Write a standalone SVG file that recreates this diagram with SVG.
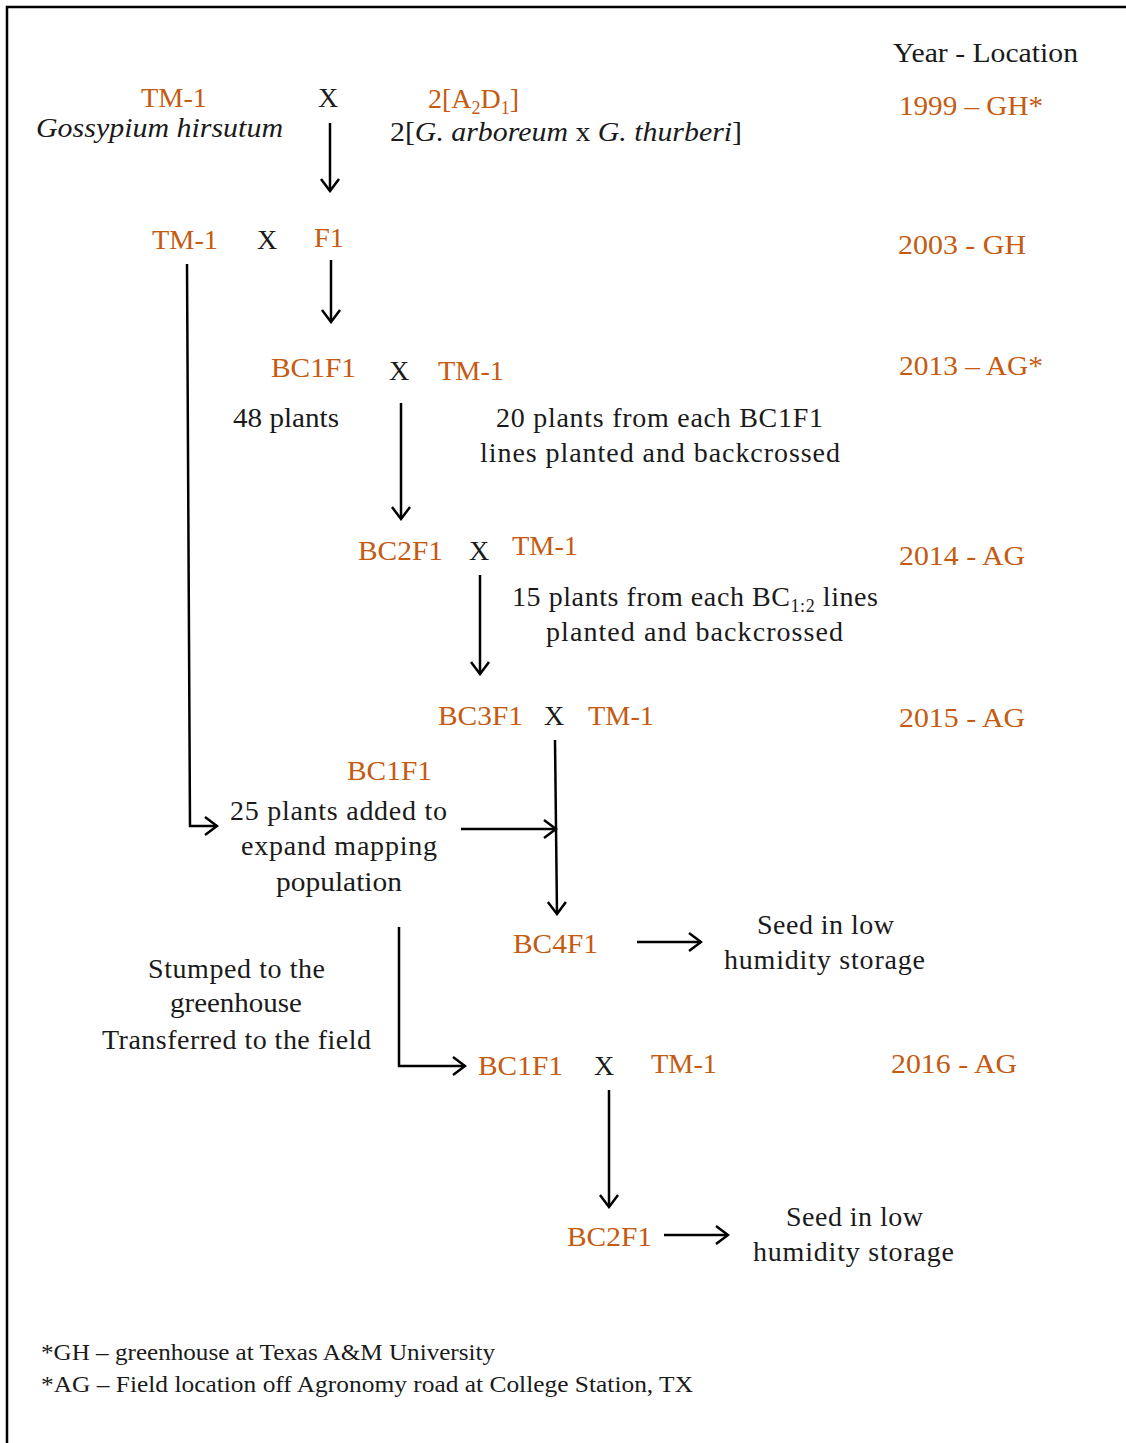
<svg xmlns="http://www.w3.org/2000/svg" width="1126" height="1443" viewBox="0 0 1126 1443">
<defs>
<style>
text{font-family:"Liberation Serif","Times New Roman",serif;font-size:28px;fill:#1a1a1a}
.o{fill:#C55A11}
.i{font-style:italic}
.f{font-size:23px}
.c{fill:none;stroke:#000;stroke-width:2.5}
.a{marker-end:url(#ah)}
</style>
<marker id="ah" viewBox="-14 -10 16 20" refX="0" refY="0" markerWidth="16" markerHeight="20" markerUnits="userSpaceOnUse" orient="auto">
<path d="M-12,-9 L0,0 L-12,9" fill="none" stroke="#000" stroke-width="2.5"/>
</marker>
</defs>
<rect width="1126" height="1443" fill="#fff"/>
<path d="M7,1443 L7,7 L1126,7" fill="none" stroke="#000" stroke-width="2.5"/>

<g id="connectors">
<line class="c a" x1="330" y1="123" x2="330" y2="191"/>
<line class="c a" x1="331" y1="260" x2="331" y2="322"/>
<path class="c a" d="M187,264 L190,826 L217,826"/>
<line class="c a" x1="401" y1="403" x2="401" y2="519"/>
<line class="c a" x1="480" y1="575" x2="480" y2="674"/>
<line class="c a" x1="555" y1="740" x2="557" y2="914"/>
<line class="c a" x1="461" y1="829" x2="556" y2="829"/>
<line class="c a" x1="637" y1="942" x2="701" y2="942"/>
<path class="c a" d="M399,927 L399,1066 L465,1066"/>
<line class="c a" x1="609" y1="1090" x2="609" y2="1207"/>
<line class="c a" x1="664" y1="1235" x2="728" y2="1235"/>
</g>

<g id="header"><text x="893" y="62" textLength="185" lengthAdjust="spacingAndGlyphs">Year - Location</text></g>
<g id="y1999"><text class="o" x="899" y="115" textLength="144" lengthAdjust="spacingAndGlyphs">1999 – GH*</text></g>
<g id="y2003"><text class="o" x="898" y="254" textLength="128" lengthAdjust="spacingAndGlyphs">2003 - GH</text></g>
<g id="y2013"><text class="o" x="899" y="375" textLength="144" lengthAdjust="spacingAndGlyphs">2013 – AG*</text></g>
<g id="y2014"><text class="o" x="899" y="565" textLength="126" lengthAdjust="spacingAndGlyphs">2014 - AG</text></g>
<g id="y2015"><text class="o" x="899" y="727" textLength="126" lengthAdjust="spacingAndGlyphs">2015 - AG</text></g>
<g id="y2016"><text class="o" x="891" y="1073" textLength="126" lengthAdjust="spacingAndGlyphs">2016 - AG</text></g>

<g id="parent-tm1">
<text class="o" x="141" y="107" textLength="66" lengthAdjust="spacingAndGlyphs">TM-1</text>
<text class="i" x="36" y="137" textLength="247" lengthAdjust="spacingAndGlyphs">Gossypium hirsutum</text>
</g>
<g id="cross1"><text x="318" y="107">X</text></g>
<g id="parent-a2d1">
<text class="o" x="428" y="108">2[A<tspan font-size="18" dy="6">2</tspan><tspan dy="-6">D</tspan><tspan font-size="18" dy="6">1</tspan><tspan dy="-6">]</tspan></text>
<text x="390" y="141" textLength="352" lengthAdjust="spacingAndGlyphs">2[<tspan class="i">G. arboreum</tspan> x <tspan class="i">G. thurberi</tspan>]</text>
</g>

<g id="row2">
<text class="o" x="152" y="249" textLength="66" lengthAdjust="spacingAndGlyphs">TM-1</text>
<text x="257" y="249">X</text>
<text class="o" x="314" y="247" textLength="30" lengthAdjust="spacingAndGlyphs">F1</text>
</g>

<g id="row3">
<text class="o" x="271" y="377" textLength="85" lengthAdjust="spacingAndGlyphs">BC1F1</text>
<text x="389" y="380">X</text>
<text class="o" x="438" y="380" textLength="66" lengthAdjust="spacingAndGlyphs">TM-1</text>
<text x="233" y="427" textLength="106" lengthAdjust="spacingAndGlyphs">48 plants</text>
<text x="496" y="427" textLength="327" lengthAdjust="spacing">20 plants  from each BC1F1</text>
<text x="480" y="462" textLength="360" lengthAdjust="spacing">lines  planted and backcrossed</text>
</g>

<g id="row4">
<text class="o" x="358" y="560" textLength="85" lengthAdjust="spacingAndGlyphs">BC2F1</text>
<text x="469" y="560">X</text>
<text class="o" x="512" y="555" textLength="66" lengthAdjust="spacingAndGlyphs">TM-1</text>
<text x="512" y="606" textLength="366" lengthAdjust="spacing">15 plants  from each BC<tspan font-size="18" dy="6">1:2</tspan><tspan dy="-6">  lines</tspan></text>
<text x="546" y="641" textLength="297" lengthAdjust="spacing">planted  and backcrossed</text>
</g>

<g id="row5">
<text class="o" x="438" y="725" textLength="85" lengthAdjust="spacingAndGlyphs">BC3F1</text>
<text x="544" y="725">X</text>
<text class="o" x="588" y="725" textLength="66" lengthAdjust="spacingAndGlyphs">TM-1</text>
</g>

<g id="added">
<text class="o" x="347" y="780" textLength="85" lengthAdjust="spacingAndGlyphs">BC1F1</text>
<text x="230" y="820" textLength="217" lengthAdjust="spacing">25 plants  added to</text>
<text x="241" y="855" textLength="196" lengthAdjust="spacing">expand mapping</text>
<text x="276" y="891" textLength="126" lengthAdjust="spacingAndGlyphs">population</text>
</g>

<g id="bc4f1">
<text class="o" x="513" y="953" textLength="85" lengthAdjust="spacingAndGlyphs">BC4F1</text>
</g>
<g id="storage1">
<text x="757" y="934" textLength="137" lengthAdjust="spacing">Seed in low</text>
<text x="724" y="969" textLength="201" lengthAdjust="spacing">humidity  storage</text>
</g>

<g id="stumped">
<text x="148" y="978" textLength="177" lengthAdjust="spacing">Stumped to the</text>
<text x="170" y="1012" textLength="132" lengthAdjust="spacingAndGlyphs">greenhouse</text>
<text x="102" y="1049" textLength="269" lengthAdjust="spacing">Transferred to the  field</text>
</g>

<g id="row6">
<text class="o" x="478" y="1075" textLength="85" lengthAdjust="spacingAndGlyphs">BC1F1</text>
<text x="594" y="1075">X</text>
<text class="o" x="651" y="1073" textLength="66" lengthAdjust="spacingAndGlyphs">TM-1</text>
</g>

<g id="bc2f1">
<text class="o" x="567" y="1246" textLength="85" lengthAdjust="spacingAndGlyphs">BC2F1</text>
</g>
<g id="storage2">
<text x="786" y="1226" textLength="137" lengthAdjust="spacing">Seed in low</text>
<text x="753" y="1261" textLength="201" lengthAdjust="spacing">humidity  storage</text>
</g>

<g id="footnote">
<text class="f" x="41" y="1360" textLength="454" lengthAdjust="spacingAndGlyphs">*GH – greenhouse  at Texas A&amp;M University</text>
<text class="f" x="41" y="1392" textLength="652" lengthAdjust="spacingAndGlyphs">*AG – Field location  off Agronomy  road at College  Station,  TX</text>
</g>
</svg>
